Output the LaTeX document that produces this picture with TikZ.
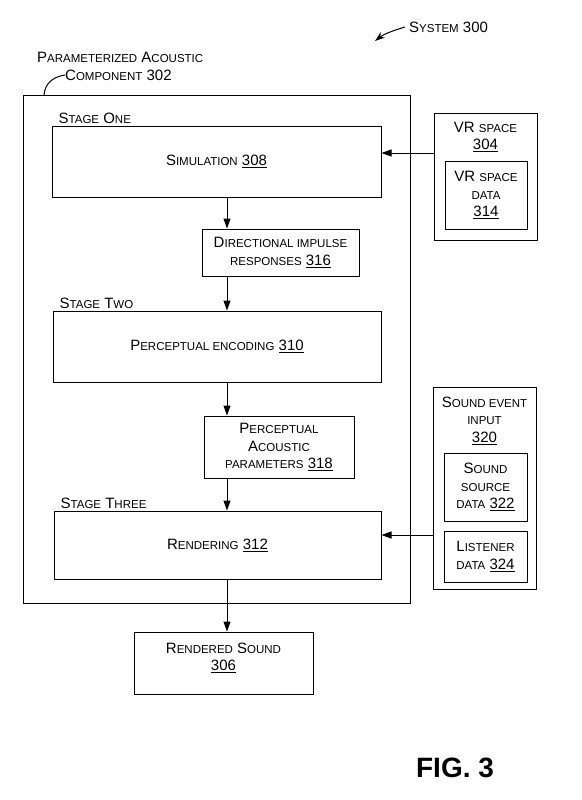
\documentclass[tikz,border=0pt]{standalone}
\usepackage{fontspec}
\setmainfont{Liberation Sans}
\usetikzlibrary{arrows.meta,positioning}
\newcommand\smc[1]{{\fontsize{11.5}{17.5}\selectfont\MakeUppercase{#1}}}
\tikzset{
  box/.style={draw,line width=1pt,rectangle,inner sep=0pt,align=center},
  boxtext/.style={inner sep=0pt,align=center},
  flow/.style={-{Triangle[length=10pt,width=7pt]},line width=1pt},
}
\begin{document}
\begin{tikzpicture}[x=1pt,y=-1pt,font=\fontsize{15}{17.5}\selectfont]
      \useasboundingbox (0,0) rectangle (581,800);
      \node[box,minimum width=387pt,minimum height=508pt] (pac) at (216.5,349) {};
      \node[box,minimum width=329pt,minimum height=71pt] (sim) at (216.5,161.5) {S\smc{imulation} \underline{308}};
      \node[box,minimum width=157pt,minimum height=47pt] (dir) at (280.5,252.5) {D\smc{irectional impulse}\\\smc{responses} \underline{316}};
      \node[box,minimum width=328pt,minimum height=71pt] (enc) at (217,346.5) {P\smc{erceptual encoding} \underline{310}};
      \node[box,minimum width=150pt,minimum height=62pt] (par) at (279,447) {P\smc{erceptual}\\A\smc{coustic}\\\smc{parameters} \underline{318}};
      \node[box,minimum width=327pt,minimum height=68pt] (ren) at (217.5,545) {R\smc{endering} \underline{312}};
      \node[box,minimum width=179pt,minimum height=62pt] (out) at (223.5,663) {};
      \node[boxtext,below=11pt of out.north] (outtext) {R\smc{endered} S\smc{ound}\\\underline{306}};
      \node[box,minimum width=103pt,minimum height=127pt] (vr) at (485.5,176.5) {};
      \node[boxtext,below=9pt of vr.north] (vrtext) {VR \smc{space}\\\underline{304}};
      \node[box,minimum width=82pt,minimum height=68pt] (vrdata) at (486,195) {VR \smc{space}\\\smc{data}\\\underline{314}};
      \node[box,minimum width=103pt,minimum height=202pt] (ev) at (484.5,488) {};
      \node[boxtext,below=10pt of ev.north] (evtext) {S\smc{ound event}\\\smc{input}\\\underline{320}};
      \node[box,minimum width=83pt,minimum height=68pt] (src) at (485.5,487) {S\smc{ound}\\\smc{source}\\\smc{data} \underline{322}};
      \node[box,minimum width=83pt,minimum height=51pt] (lis) at (485.5,556.5) {L\smc{istener}\\\smc{data} \underline{324}};
      \node[inner sep=0pt,above right=2pt and 7pt of sim.north west] (st1) {S\smc{tage} O\smc{ne}};
      \node[inner sep=0pt,above right=2pt and 7pt of enc.north west] (st2) {S\smc{tage} T\smc{wo}};
      \node[inner sep=0pt,above right=2pt and 7pt of ren.north west] (st3) {S\smc{tage} T\smc{hree}};
      \node[inner sep=0pt,anchor=west] (sys) at (409,27) {S\smc{ystem} 300};
      \node[inner sep=0pt,anchor=west] (pactitle) at (37,57) {P\smc{arameterized} A\smc{coustic}};
      \node[inner sep=0pt,anchor=west] (comp) at (65,75) {C\smc{omponent} 302};
      \node[font=\bfseries\fontsize{28}{30}\selectfont] (fig) at (455,768) {FIG. 3};
      \coordinate (ax) at (227,0);
      \coordinate (vry) at (0,153);
      \coordinate (evy) at (0,535);
      \coordinate (systip) at (375,41);
      \coordinate (lead) at (44,95);
      \begin{scope}[flow]
        \draw (sim.south -| ax) -- (dir.north -| ax);
        \draw (dir.south -| ax) -- (enc.north -| ax);
        \draw (enc.south -| ax) -- (par.north -| ax);
        \draw (par.south -| ax) -- (ren.north -| ax);
        \draw (ren.south -| ax) -- (out.north -| ax);
        \draw (vr.west |- vry) -- (sim.east |- vry);
        \draw (ev.west |- evy) -- (ren.east |- evy);
        \draw[-{Stealth[length=10pt,width=7pt]}] ([xshift=-4pt]sys.west) .. controls (392,31) and (384,34) .. (systip);
      \end{scope}
      \draw[line width=1pt] (lead) .. controls (45,84) and (52,77) .. (comp.west);
    \end{tikzpicture}
\end{document}
